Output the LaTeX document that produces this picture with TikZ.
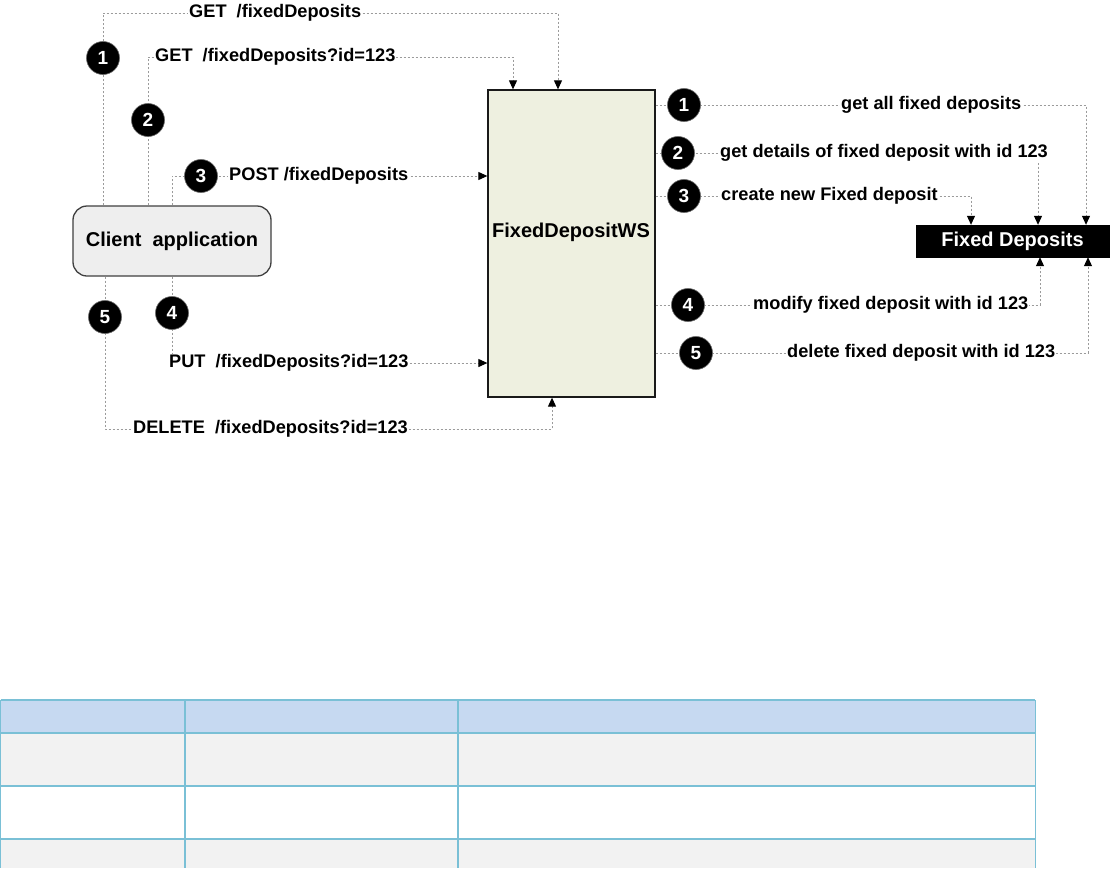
\documentclass[tikz,border=0pt]{standalone}
\usepackage{fontspec}
\setmainfont{Liberation Sans}
\usetikzlibrary{arrows.meta}
\definecolor{wsfill}{RGB}{238,240,224}
\definecolor{clfill}{RGB}{238,238,238}
\definecolor{conncol}{RGB}{155,155,155}
\definecolor{thead}{RGB}{198,217,241}
\definecolor{trow}{RGB}{242,242,242}
\definecolor{tline}{RGB}{122,192,214}
\begin{document}
\begin{tikzpicture}[x=1pt,y=-1pt,
  conn/.style={draw=conncol,line width=1pt,dash pattern=on 2pt off 2pt},
  arr/.style={-{Triangle[length=9pt,width=8pt,fill=black,color=black]}},
  lbl/.style={fill=white,inner sep=1pt,anchor=west,font=\fontsize{18.2}{20}\selectfont\bfseries},
  badge/.style={circle,fill=black,draw=black!60,line width=0.6pt,minimum size=33pt,inner sep=0pt,text=white,font=\fontsize{19}{19}\selectfont\bfseries},
  bigtxt/.style={font=\fontsize{20}{22}\selectfont\bfseries},
  cell/.style={draw=tline,line width=1.3pt}]
\useasboundingbox (0,0) rectangle (1111,868);
\fill[white] (0,0) rectangle (1111,868);

% boxes
\node[draw=black!75,line width=1.3pt,rounded corners=14pt,fill=clfill,minimum width=198pt,minimum height=70pt,inner sep=0pt,bigtxt] (client) at (172,241) {Client\ \ application};
\node[draw=black!90,line width=1.3pt,fill=wsfill,minimum width=167pt,minimum height=307pt,inner sep=0pt] (ws) at (571.5,243.5) {};
\node[bigtxt] (wslbl) at (571,232) {FixedDepositWS};
\node[fill=black,draw=black,minimum width=193pt,minimum height=32pt,inner sep=0pt,text=white,bigtxt] (fd) at (1012.5,241) {Fixed Deposits};

% turning coordinates
\coordinate (t1) at (558,13);
\coordinate (t2) at (513,57);
\coordinate (t3) at (172,176);
\coordinate (t4) at (172,363);
\coordinate (t5) at (552,429);
\coordinate (c1) at (103,0);
\coordinate (c2) at (148,0);
\coordinate (c5) at (105,0);
\coordinate (r1) at (1086,105);
\coordinate (r2) at (1038,153);
\coordinate (r3) at (971,196);
\coordinate (r4) at (1040,305);
\coordinate (r5) at (1088,353);

% left connectors
\draw[conn,arr] (c1 |- client.north) |- (t1) -- (t1 |- ws.north);
\draw[conn,arr] (c2 |- client.north) |- (t2) -- (t2 |- ws.north);
\draw[conn,arr] (t3 |- client.north) -- (t3) -- (t3 -| ws.west);
\draw[conn,arr] (t4 |- client.south) -- (t4) -- (t4 -| ws.west);
\draw[conn,arr] (c5 |- client.south) |- (t5) -- (t5 |- ws.south);

% right connectors
\draw[conn,arr] (r1 -| ws.east) -- (r1) -- (r1 |- fd.north);
\draw[conn,arr] (r2 -| ws.east) -- (r2) -- (r2 |- fd.north);
\draw[conn,arr] (r3 -| ws.east) -- (r3) -- (r3 |- fd.north);
\draw[conn,arr] (r4 -| ws.east) -- (r4) -- (r4 |- fd.south);
\draw[conn,arr] (r5 -| ws.east) -- (r5) -- (r5 |- fd.south);

% left labels
\node[lbl] (l1) at (188,13) {GET\ \ /fixedDeposits};
\node[lbl] (l2) at (154,57) {GET\ \ /fixedDeposits?id=123};
\node[lbl] (l3) at (228,176) {POST /fixedDeposits};
\node[lbl] (l4) at (168,363) {PUT\ \ /fixedDeposits?id=123};
\node[lbl] (l5) at (132,429) {DELETE\ \ /fixedDeposits?id=123};

% right labels
\node[lbl] (rl1) at (840,105) {get all fixed deposits};
\node[lbl] (rl2) at (719,153) {get details of fixed deposit with id 123};
\node[lbl] (rl3) at (720,196) {create new Fixed deposit};
\node[lbl] (rl4) at (752,305) {modify fixed deposit with id 123};
\node[lbl] (rl5) at (786,353) {delete fixed deposit with id 123};

% badges
\node[badge] (b1) at (103,58) {1};
\node[badge] (b2) at (148,120) {2};
\node[badge] (b3) at (201,176) {3};
\node[badge] (b4) at (172,313) {4};
\node[badge] (b5) at (105,317) {5};
\node[badge] (rb1) at (684,105) {1};
\node[badge] (rb2) at (678,153) {2};
\node[badge] (rb3) at (684,196) {3};
\node[badge] (rb4) at (688,305) {4};
\node[badge] (rb5) at (696,353) {5};

% table
\fill[thead] (0,700) rectangle (1035,733);
\fill[trow] (0,733) rectangle (1035,786);
\fill[trow] (0,839) rectangle (1035,868);
\draw[cell] (0.6,700) -- (1035,700);
\draw[cell] (0,733) -- (1035,733);
\draw[cell,line width=1.8pt] (0,786) -- (1035,786);
\draw[cell] (0,839) -- (1035,839);
\draw[cell] (0.6,700) -- (0.6,868);
\draw[cell] (185,700) -- (185,868);
\draw[cell] (458,700) -- (458,868);
\draw[cell,line width=0.8pt] (1035,700) -- (1035,868);
\end{tikzpicture}
\end{document}
